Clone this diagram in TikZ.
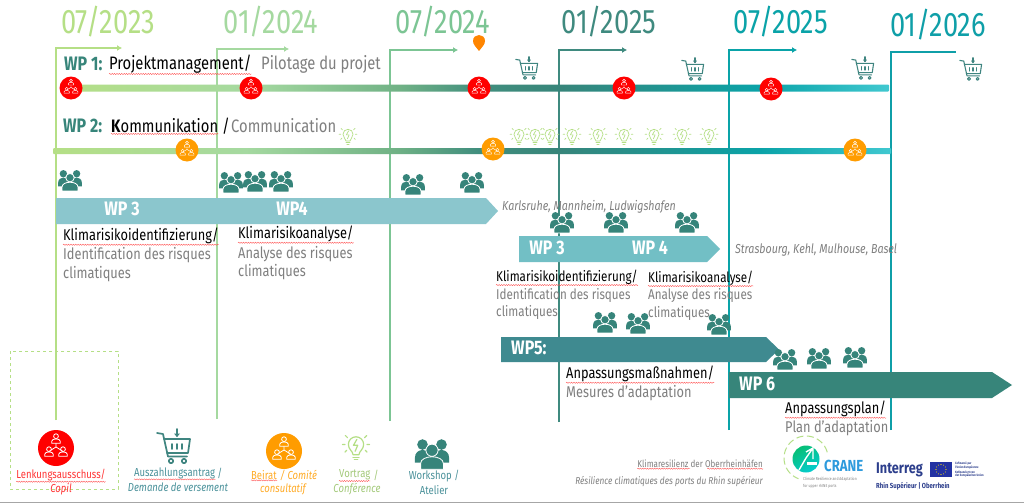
\documentclass[tikz,border=0pt]{standalone}
\usepackage{fontspec}
\setmainfont[FakeStretch=.82]{Fira Sans}
\newfontfamily\datefont[FakeStretch=.8]{Fira Sans}
\usetikzlibrary{arrows.meta,decorations.pathmorphing,calc}
\newcommand{\fs}[1]{\fontsize{#1}{#1}\selectfont}
\definecolor{cA}{HTML}{B5DF86}
\definecolor{cB}{HTML}{A5D9A0}
\definecolor{cC}{HTML}{7CC594}
\definecolor{cD}{HTML}{3F8A7F}
\definecolor{cE}{HTML}{0AA3A8}
\definecolor{cF}{HTML}{0F9FA8}
\definecolor{wsteal}{HTML}{36847A}
\definecolor{carttl}{HTML}{3F8580}
\definecolor{bulbg}{HTML}{B5DF86}
\definecolor{redc}{HTML}{FF0000}
\definecolor{orc}{HTML}{FF9C00}
\definecolor{graytx}{HTML}{7F7F7F}
\definecolor{legtl}{HTML}{4A919A}
\definecolor{barA}{HTML}{8BC6CD}
\definecolor{barB}{HTML}{72BFC5}
\definecolor{barC}{HTML}{3F8A90}
\definecolor{barD}{HTML}{37857A}
\definecolor{intb}{HTML}{2C3E8C}
\definecolor{tlEnd}{HTML}{40C8D0}
\pgfdeclarehorizontalshading{tl}{100bp}{color(0bp)=(cA);color(25bp)=(cA);
 color(36.5bp)=(cB);color(45.5bp)=(cC!90!black);color(50.3bp)=(barD!85!cC);
 color(55.2bp)=(barD);color(67.2bp)=(cE);color(75bp)=(tlEnd);color(100bp)=(tlEnd)}
\newcommand{\wave}[1]{\draw[wavy] ([yshift=-.6pt]#1.south west) -- ([yshift=-.6pt]#1.south east);}
\tikzset{
 x=1pt,y=-1pt,
 txt/.style={inner sep=0pt,anchor=west,font=\fs{15.6}},
 de/.style={txt,text=black},
 fr/.style={txt,text=graytx},
 wp/.style={inner sep=0pt,font=\fs{19.5}\bfseries,text=white},
 dateL/.style={inner sep=0pt,font=\datefont\fs{34}},
 wavy/.style={draw=red!70,line width=.35pt,decorate,decoration={snake,amplitude=.6pt,segment length=2.4pt}},
 tline/.style={line width=1.9pt,-{Latex[length=5pt,width=6pt]}},
 tlineN/.style={line width=1.9pt},
 leg/.style={inner sep=0pt,font=\fs{11.6}},
 legit/.style={inner sep=0pt,font=\fs{11.6}\itshape},
 foot/.style={inner sep=0pt,anchor=east,font=\fs{9.8},text=graytx},
 netdisc/.style={circle,inner sep=0pt,minimum size=#1},
 pics/netfill/.style={code={
   \draw[white,line width=#1] (0,-5) -- (0,-1) (0,-1) -- (-6.5,3) (0,-1) -- (6.5,3);
   \foreach \px/\py in {0/-10,-7/3,7/3}{
     \draw[white,line width=#1] (\px,\py-1.8) circle (2.4);
     \draw[white,line width=#1] (\px-4.3,\py+5.2) -- (\px+4.3,\py+5.2) -- (\px+4.3,\py+3.2) .. controls (\px+4.3,\py+.2) and (\px-4.3,\py+.2) .. (\px-4.3,\py+3.2) -- cycle;
   }
 }},
 pics/cart/.style={code={
   \begin{scope}[carttl,line width=#1,line cap=round,line join=round]
   \draw (-17,-13) -- (-11,-12) -- (-6,10.5) -- (13,10.5);
   \draw (-10,-7) -- (16,-7) -- (14,7) -- (-7,7);
   \draw (-2,-2) -- (-2,3) (3,-2) -- (3,3) (8,-2) -- (8,3);
   \draw (-3,15) circle (2.2) (10,15) circle (2.2);
   \draw (3,-17) -- (3,-10);
   \fill (0,-12.5) -- (6,-12.5) -- (3,-9) -- cycle;
   \end{scope}
 }},
 pics/bulb/.style={code={
   \begin{scope}[bulbg,line width=#1,line cap=round,line join=round]
   \draw (-3.5,9) .. controls (-3.5,5) and (-9,3) .. (-9,-3) .. controls (-9,-8) and (-5,-12) .. (0,-12) .. controls (5,-12) and (9,-8) .. (9,-3) .. controls (9,3) and (3.5,5) .. (3.5,9) -- cycle;
   \draw (-3.5,12) -- (3.5,12) (-2,15) -- (2,15);
   \draw (1,-9) -- (-3,-2) -- (2,-2) -- (-1,5);
   \draw (-13,-3) -- (-16,-3) (13,-3) -- (16,-3) (-10,-11) -- (-12.5,-13.5) (10,-11) -- (12.5,-13.5) (-11,4) -- (-13,6) (11,4) -- (13,6);
   \end{scope}
 }},
 pics/crowd/.style={code={
   \fill[wsteal] (-10,-11) circle (5.6) (10,-11) circle (5.6);
   \fill[wsteal] (-18,3) .. controls (-18,-8) and (-2,-8) .. (-2,3) -- (-2,8) -- (-18,8) -- cycle;
   \fill[wsteal] (18,3) .. controls (18,-8) and (2,-8) .. (2,3) -- (2,8) -- (18,8) -- cycle;
   \fill[wsteal,draw=white,line width=.8pt] (0,-5) circle (6.4);
   \fill[wsteal,draw=white,line width=.8pt] (-12,15) -- (-12,9) .. controls (-12,-.5) and (12,-.5) .. (12,9) -- (12,15) -- cycle;
 }},
}
\begin{document}
\begin{tikzpicture}
\useasboundingbox (0,0) rectangle (1024,503);
\fill[white] (0,0) rectangle (1024,503);
\draw[black!35,line width=.8pt] (0,502.3) -- (1024,502.3);

% time lines
\coordinate (a0) at (56,420); \coordinate (a1) at (56,48); \coordinate (a2) at (122,48);
\coordinate (b0) at (217,419); \coordinate (b1) at (217,49); \coordinate (b2) at (289,49);
\coordinate (c0) at (390,421); \coordinate (c1) at (390,50); \coordinate (c2) at (458,50);
\coordinate (d0) at (559,422); \coordinate (d1) at (559,50); \coordinate (d2) at (627,50);
\coordinate (e0) at (729,430); \coordinate (e1) at (729,50); \coordinate (e2) at (797,50);
\coordinate (f0) at (891,430); \coordinate (f1) at (891,52); \coordinate (f2) at (956,52);
\draw[tline,cA] (a0) -- (a1) -- (a2);
\draw[tline,cB] (b0) -- (b1) -- (b2);
\draw[tline,cC] (c0) -- (c1) -- (c2);
\draw[tline,cD] (d0) -- (d1) -- (d2);
\draw[tline,cE] (e0) -- (e1) -- (e2);
\draw[tlineN,cF] (f0) -- (f1) -- (f2);

% dates
\node[dateL,text=cA] (d23a) at (108,22) {07/2023};
\node[dateL,text=cB] (d24a) at (271,22) {01/2024};
\node[dateL,text=cC] (d24b) at (443,22) {07/2024};
\node[dateL,text=cD] (d25a) at (609,22) {01/2025};
\node[dateL,text=cE] (d25b) at (781,22) {07/2025};
\node[dateL,text=cF] (d26a) at (938,25) {01/2026};

% gradient bars
\shade[shading=tl,rounded corners=1pt] (60,84.5) rectangle (889,91.5);
\shade[shading=tl,rounded corners=1pt] (53,148) rectangle (891,154);

% pin
\fill[orc!85!red] (479,51) .. controls (476,47) and (473,44.5) .. (473,41) .. controls (473,33) and (485,33) .. (485,41) .. controls (485,44.5) and (482,47) .. (479,51) -- cycle;

% WP1/WP2 titles
\node[txt,font=\fs{19.5}\bfseries,text=barD] (wp1) at (64,64) {WP 1:};
\node[de,font=\fs{18}] (pm) at (109,64) {Projektmanagement/};
\node[fr,font=\fs{18}] (pf) at (261,64) {Pilotage du projet};
\node[txt,font=\fs{19.5}\bfseries,text=barD] (wp2) at (63,126) {WP 2:};
\node[de,font=\fs{18}] (km) at (111,126) {\textbf{K}ommunikation};
\node[de,font=\fs{18}] (ks) at (222,126) {/};
\node[fr,font=\fs{18}] (kf) at (231,126) {Communication};
\wave{pm}\wave{km}

% icon discs
\foreach \n/\cx/\cy in {r1/71/88,r2/251/88,r3/479/88,r4/624/88,r5/771/89}{
  \node[netdisc=23pt,fill=redc] (\n) at (\cx,\cy) {};
  \pic[scale=.62] at (\cx,\cy) {netfill=.45pt};
}
\foreach \n/\cx/\cy in {o1/187/150,o2/493/149,o3/855/150}{
  \node[netdisc=23pt,fill=orc] (\n) at (\cx,\cy) {};
  \pic[scale=.62] at (\cx,\cy) {netfill=.45pt};
}

% carts and bulbs
\foreach \cx/\cy in {527/68,693/69,863/68,971/69}{ \pic[scale=.66] at (\cx,\cy) {cart=1.1pt}; }
\foreach \cx in {348,519,535,550,572,598,624,654,682,709}{ \pic[scale=.56] at (\cx,136) {bulb=.7pt}; }

% WP arrows
\fill[barA] (56,198) -- (486,198) -- (498,211) -- (486,224) -- (56,224) -- cycle;
\fill[barB] (519,236) -- (707,236) -- (720,249) -- (707,262) -- (519,262) -- cycle;
\fill[barC] (501,337) -- (766,337) -- (779,349.5) -- (766,362) -- (501,362) -- cycle;
\fill[barD] (729,372) -- (992,372) -- (1012,385) -- (992,398) -- (729,398) -- cycle;

% crowd icons
\foreach \cx/\cy in {70/181,231/183,255/182,281/182,413/185,472/183,562/223,616/223,687/223,605/323,638/324,719/325,785/360,819/359,855/358}{
  \pic[scale=.66] at (\cx,\cy) {crowd};
}

% WP labels
\node[wp] (w3a) at (122,209) {WP 3};
\node[wp] (w4a) at (292,209) {WP4};
\node[wp] (w3b) at (547,248) {WP 3};
\node[wp] (w4b) at (650,248) {WP 4};
\node[wp,anchor=west] (w5) at (511,348) {WP5:};
\node[wp,anchor=west] (w6) at (739,384) {WP 6};

% texts
\node[de] (t1) at (63,236) {Klimarisikoidentifizierung/};
\node[fr] (t2) at (63,255) {Identification des risques};
\node[fr] (t3) at (63,274) {climatiques};
\node[de] (t4) at (238,234) {Klimarisikoanalyse/};
\node[fr] (t5) at (238,254) {Analyse des risques};
\node[fr] (t6) at (238,272) {climatiques};
\node[fr,font=\fs{13}\itshape] (cty1) at (502,207) {Karlsruhe, Mannheim, Ludwigshafen};
\node[fr,font=\fs{13}\itshape] (cty2) at (735,250) {Strasbourg, Kehl, Mulhouse, Basel};
\node[de,font=\fs{14.2}] (u1) at (496,277) {Klimarisikoidentifizierung/};
\node[fr,font=\fs{14.2}] (u2) at (496,295) {Identification des risques};
\node[fr,font=\fs{14.2}] (u3) at (496,312) {climatiques};
\node[de,font=\fs{14.2}] (u4) at (648,278) {Klimarisikoanalyse/};
\node[fr,font=\fs{14.2}] (u5) at (648,295) {Analyse des risques};
\node[fr,font=\fs{14.2}] (u6) at (648,313) {climatiques};
\node[de] (v1) at (566,374) {Anpassungsmaßnahmen/};
\node[fr] (v2) at (566,393) {Mesures d'adaptation};
\node[de] (v3) at (785,409) {Anpassungsplan/};
\node[fr] (v4) at (785,428) {Plan d'adaptation};
\wave{t1}\wave{t4}\wave{u1}\wave{u4}\wave{v1}\wave{v3}

% legend
\draw[cA,dashed,line width=1pt] (10,351) rectangle (118,489);
\node[netdisc=36pt,fill=redc] (lr) at (56,448) {};
\pic at (56,448) {netfill=.8pt};
\node[leg,text=redc!80!white] (l1) at (61,475) {Lenkungsausschuss/};
\node[legit,text=redc!80!white] (l1b) at (61,489) {Copil};
\pic at (174,446) {cart=1.7pt};
\node[leg,text=legtl,anchor=west] (l2) at (134,473) {Auszahlungsantrag};
\node[leg,text=legtl,anchor=west] (l2s) at (l2.east) {\,/};
\node[legit,text=legtl] (l2b) at (178,487) {Demande de versement};
\node[netdisc=36pt,fill=orc] (lo) at (284,451) {};
\pic at (284,451) {netfill=.8pt};
\node[leg,text=orc!85!white,anchor=west] (l3) at (251,475) {Beirat};
\node[legit,text=orc!85!white,anchor=west] (l3s) at ($(l3.east)+(3,0)$) {/ Comité};
\node[legit,text=orc!85!white] (l3b) at (283,489) {consultatif};
\pic[scale=.85] at (356,447) {bulb=1.2pt};
\node[leg,text=bulbg!90!black,anchor=west] (l4) at (339,475) {Vortrag};
\node[leg,text=bulbg!90!black,anchor=west] (l4s) at ($(l4.east)+(3,0)$) {/};
\node[legit,text=bulbg!90!black] (l4b) at (357,489) {Conférence};
\pic[scale=.95] at (432,455) {crowd};
\node[leg,text=legtl] (l5) at (434,476) {Workshop /};
\node[leg,text=legtl] (l5b) at (434,490) {Atelier};
\wave{l1}\wave{l2}\wave{l3}\wave{l4}

% footer
\node[foot] (fa) at (763,464) {Klimaresilienz der Oberrheinhäfen};
\node[foot,font=\fs{10.1}\itshape] (fb) at (763,482) {Résilience climatiques des ports du Rhin supérieur};
\draw[wavy] ([yshift=-.6pt]fa.south west) -- ++(53,0);
\draw[wavy] ([yshift=-.6pt]fa.south east) -- ++(-56,0);

% CRANE logo
\draw[bulbg,line width=1pt,dash pattern=on 7pt off 3.5pt] plot[domain=15:250,samples=40] ({806+22*cos(\x)},{458-22*sin(\x)});
\shade[left color=cE!70!green,right color=cE!55!cyan,shading angle=30] (806,459) circle (13.5);
\draw[white,line width=1.4pt] (799,470) -- (806,458) -- (813,448) (806,452) -- (813,448) -- (813,459);
\fill[white] (807,462) rectangle (817,465);
\node[inner sep=0pt,anchor=west,font=\fs{16}\bfseries,text=cyan!75!blue!85!white] (crane) at (824,466) {CRANE};
\node[inner sep=0pt,anchor=west,font=\fs{4.2},text=black!50] (cr1) at (803,479) {Climate Resilience and Adaptation};
\node[inner sep=0pt,anchor=west,font=\fs{4.2},text=black!50] (cr2) at (803,486) {for upper rhINE ports};

% Interreg logo
\node[inner sep=0pt,anchor=west,font=\fs{15.5}\bfseries,text=intb] (inter) at (876,470) {Interreg};
\node[inner sep=0pt,anchor=west,font=\fs{7.3}\bfseries,text=intb] (rhin) at (876,486) {Rhin Supérieur | Oberrhein};
\fill[intb!80!blue] (930,462) rectangle (952,477);
\foreach \a in {0,30,...,330}{ \fill[yellow!85!orange] ({941+5*cos(\a)},{469.5+5*sin(\a)}) circle (.55); }
\node[inner sep=0pt,anchor=west,align=left,font=\fs{3.2}\bfseries,text=intb] (eu) at (955,469.5) {Cofinancé par\\l'Union Européenne\\Kofinanziert von\\der Europäischen Union};
\end{tikzpicture}
\end{document}
